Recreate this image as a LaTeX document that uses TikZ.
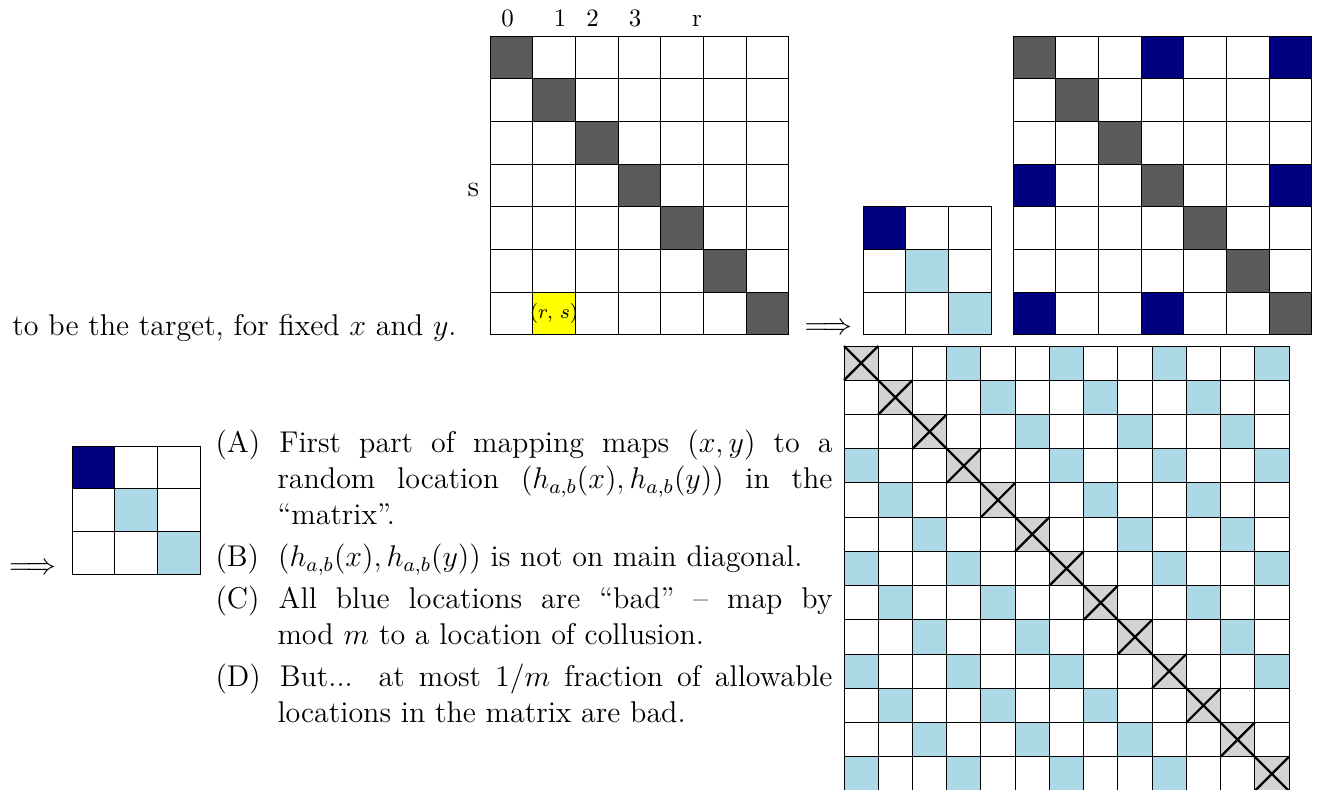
\documentclass[12pt,tikz,border=0pt]{standalone}
\usetikzlibrary{positioning,calc}
\definecolor{mxgrey}{HTML}{5A5A5A}
\definecolor{mxnavy}{HTML}{000080}
\definecolor{mxlight}{HTML}{ADD8E6}
\definecolor{mxpale}{HTML}{D3D3D3}
\definecolor{mxyellow}{HTML}{FFFF00}
\newcounter{itm}

\begin{document}
\begin{tikzpicture}[
  x=0.4pt, y=-0.4pt,
  cell/.style={draw=black, line width=0.4pt, fill=white},
  dark/.style={cell, fill=mxgrey},
  navy/.style={cell, fill=mxnavy},
  light/.style={cell, fill=mxlight},
  pale/.style={cell, fill=mxpale},
  cross/.style={draw=black, line width=0.9pt},
  lbl/.style={inner sep=0pt, anchor=base},
  body/.style={inner sep=0pt, anchor=base west},
  items/.style={inner sep=0pt, anchor=base west, text width=246.8pt, align=justify},
]
  \useasboundingbox (0,0) rectangle (1319,789);
  \def\cs{42.68}
  \def\bs{34.23}

  %% ---- grille 7x7 de gauche ----
  \foreach \i in {0,...,6}{
    \foreach \j in {0,...,6}{
      \ifnum\i=\j \def\sty{dark}\else\def\sty{cell}\fi
      \draw[\sty] ({490+\j*\cs},{36+\i*\cs}) rectangle ++(\cs,\cs);
    }
  }
  \draw[cell, fill=mxyellow] ({490+\cs},{36+6*\cs}) rectangle ++(\cs,\cs);
  \node[font=\scriptsize, inner sep=0pt] (rs) at ({490+1.5*\cs},{36+6.5*\cs}) {$(r,\,s)$};

  %% ---- etiquettes ----
  \foreach \x/\t [count=\k] in {507.5/0,560/1,592.5/2,635/3,697/r}
    \node[lbl, font=\footnotesize] (col\k) at (\x,26) {\t};
  \node[lbl] (row) at (473.5,196.5) {s};

  %% ---- texte et fleches ----
  \node[body] (target) at (12,335) {to be the target, for fixed $x$ and $y$.};
  \node[lbl] (imp1) at (828.5,334.8) {$\Longrightarrow$};
  \node[lbl] (imp2) at (33,574) {$\Longrightarrow$};

  %% ---- petites grilles 3x3 ----
  \foreach \ox/\oy in {863/206.76, 72/446}{
    \foreach \i in {0,1,2}{
      \foreach \j in {0,1,2}{
        \def\sty{cell}
        \ifnum\i=\j \def\sty{light}\fi
        \ifnum\i=0 \ifnum\j=0 \def\sty{navy}\fi\fi
        \draw[\sty] ({\ox+\j*\cs},{\oy+\i*\cs}) rectangle ++(\cs,\cs);
      }
    }
  }

  %% ---- grille 7x7 de droite ----
  \foreach \i in {0,...,6}{
    \foreach \j in {0,...,6}{
      \pgfmathtruncatemacro\ri{mod(\i,3)+mod(\j,3)}
      \def\sty{cell}
      \ifnum\ri=0 \def\sty{navy}\fi
      \ifnum\i=\j \def\sty{dark}\fi
      \draw[\sty] ({1013+\j*\cs},{36+\i*\cs}) rectangle ++(\cs,\cs);
    }
  }

  %% ---- grande grille 13x13 ----
  \foreach \i in {0,...,12}{
    \foreach \j in {0,...,12}{
      \pgfmathtruncatemacro\rd{mod(\i-\j+39,3)}
      \def\sty{cell}
      \ifnum\rd=0 \def\sty{light}\fi
      \ifnum\i=\j \def\sty{pale}\fi
      \draw[\sty] ({844+\j*\bs},{346+\i*\bs}) rectangle ++(\bs,\bs);
    }
  }
  \foreach \i in {0,...,12}{
    \draw[cross] ({844+\i*\bs},{346+\i*\bs}) -- ++(\bs,\bs);
    \draw[cross] ({844+(\i+1)*\bs},{346+\i*\bs}) -- ++(-\bs,\bs);
  }

  %% ---- liste ----
  \node[items] (notes) at (215,416) {%
    \hyphenpenalty=10000 \exhyphenpenalty=10000
    \begin{list}{(\Alph{itm})}{\usecounter{itm}%
      \setlength{\leftmargin}{24.8pt}\setlength{\labelsep}{7.6pt}%
      \setlength{\labelwidth}{17.2pt}\setlength{\itemsep}{2.2pt}%
      \setlength{\parsep}{0pt}\setlength{\topsep}{0pt}\setlength{\partopsep}{0pt}}
    \item First part of mapping maps $(x,y)$ to a random location
      $(h_{a,b}(x),h_{a,b}(y))$ in the ``matrix''.
    \item $(h_{a,b}(x),h_{a,b}(y))$ is not on main diagonal.
    \item All blue locations are ``bad'' -- map by\linebreak mod $m$ to a location of collusion.
    \item But... at most $1/m$ fraction of allowable locations in the matrix are bad.
    \end{list}};

\end{tikzpicture}
\end{document}
